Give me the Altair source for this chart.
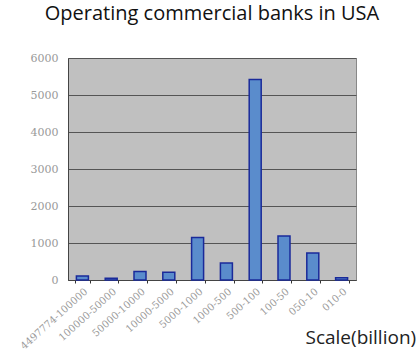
import altair as alt
import pandas as pd

categories = ["4497774-100000", "100000-50000", "50000-10000", "10000-5000",
              "5000-1000", "1000-500", "500-100", "100-50", "050-10", "010-0"]
counts = [110, 50, 230, 210, 1150, 460, 5420, 1190, 730, 60]

df = pd.DataFrame({"scale": categories, "banks": counts})

chart = alt.Chart(df).mark_bar(
    color="#5a8ccc", stroke="#1a2a9a", strokeWidth=1.5, size=12
).encode(
    x=alt.X("scale:N", sort=categories,
            scale=alt.Scale(paddingInner=0.5, paddingOuter=0.25),
            axis=alt.Axis(title="Scale(billion)", labelAngle=318,
                          labelFont="DejaVu Serif", labelFontSize=10,
                          labelColor="#999999", labelPadding=3,
                          tickBand="extent", tickSize=3, tickColor="#333333",
                          domainColor="#444444",
                          titleFont="Open Sans", titleFontSize=19,
                          titleFontWeight="normal", titleColor="#222222",
                          titleAnchor="start", titleAlign="left",
                          titleBaseline="middle",
                          titleX=237, titleY=57)),
    y=alt.Y("banks:Q", scale=alt.Scale(domain=[0, 6000]),
            axis=alt.Axis(title=None, values=[0, 1000, 2000, 3000, 4000, 5000, 6000],
                          format="d",
                          labelFont="DejaVu Serif", labelFontSize=11,
                          labelColor="#999999", labelPadding=10, tickSize=0,
                          domainColor="#444444",
                          grid=True, gridColor="#555555", gridWidth=1)),
).properties(
    width=288, height=222,
    title=alt.TitleParams("Operating commercial banks in USA", font="Open Sans",
                          fontSize=20, fontWeight="normal", color="#111111",
                          anchor="middle", offset=28),
    autosize=alt.AutoSizeParams(type="none"),
    padding={"left": 68, "top": 58, "right": 63, "bottom": 71},
).configure(background="white").configure_view(
    fill="#c0c0c0", stroke="#888888", strokeWidth=1
)

chart.save("out.html", embed_options={"renderer": "svg", "actions": False})
